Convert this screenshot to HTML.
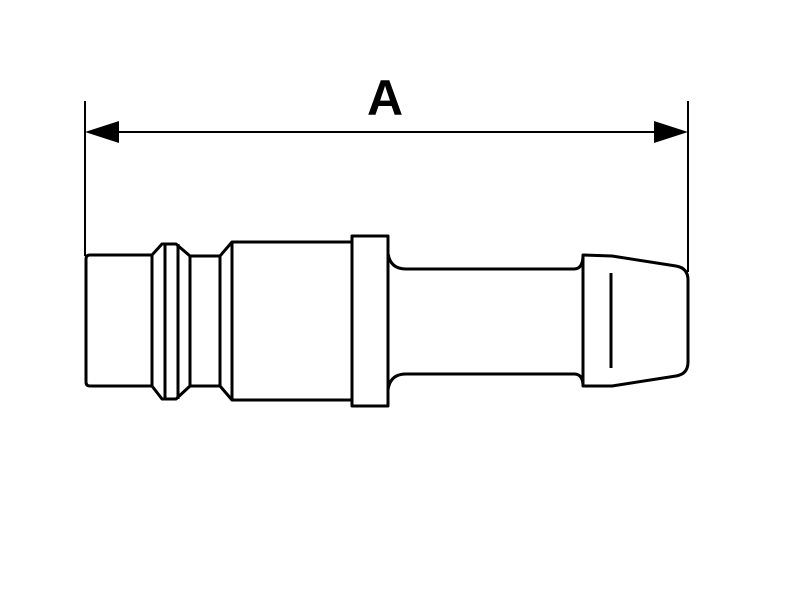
<!DOCTYPE html>
<html><head><style>html,body{margin:0;padding:0;background:#fff}svg{display:block}</style></head>
<body>
<svg width="800" height="600" viewBox="0 0 800 600" xmlns="http://www.w3.org/2000/svg">
<g stroke="#000" fill="none" stroke-linejoin="round">
<line x1="85" y1="101" x2="85" y2="256" stroke-width="2"/>
<line x1="688" y1="101" x2="688" y2="272" stroke-width="2"/>
<line x1="100" y1="132" x2="673" y2="132" stroke-width="2"/>
<g stroke-width="3">
<path d="M152 255 H90 Q86 255 86 259 V382 Q86 386 90 386 H152"/>
<path d="M152 255 L162 244 H176 L190 256 H220 L232 242 H352"/>
<path d="M152 386 L162 399 H176 L190 386 H220 L232 400 H352"/>
<line x1="152" y1="255" x2="152" y2="386"/>
<line x1="165" y1="244" x2="165" y2="399"/>
<line x1="178" y1="244" x2="178" y2="399"/>
<line x1="190" y1="256" x2="190" y2="386"/>
<line x1="220" y1="256" x2="220" y2="386"/>
<line x1="232" y1="242" x2="232" y2="400"/>
<rect x="352" y="236" width="36" height="170"/>
<path d="M388 253 Q390 269 406 269 H574 Q583 269 583 255"/>
<path d="M388 390 Q390 374 406 374 H574 Q583 374 583 386"/>
<path d="M583 255 V386 H612 L676 376 Q688 374 688 362 V280 Q688 268 676 266 L612 256 Z"/>
<line x1="611" y1="273" x2="611" y2="368"/>
</g>
</g>
<polygon points="85,132 119,121 119,143" fill="#000"/>
<polygon points="688,132 654,121 654,143" fill="#000"/>
<text x="385" y="115" font-family="Liberation Sans, sans-serif" font-weight="bold" font-size="50" text-anchor="middle">A</text>
</svg>
</body></html>
